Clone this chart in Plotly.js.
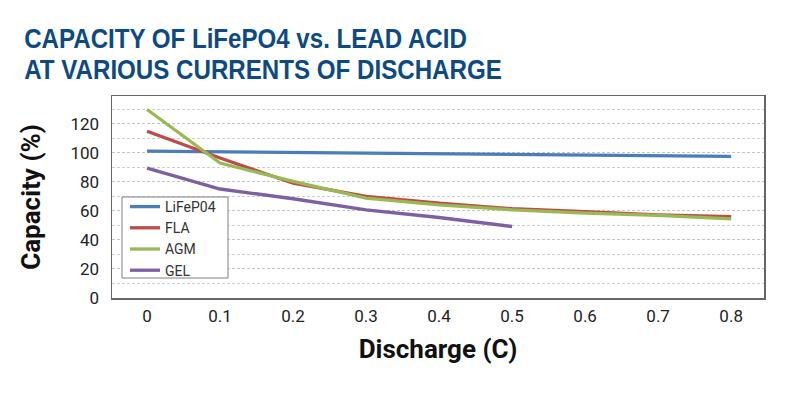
<!DOCTYPE html>
<html>
<head>
<meta charset="utf-8">
<script src="https://cdn.plot.ly/plotly-3.0.1.min.js"></script>
<style>html,body{margin:0;padding:0;background:#fff;}#chart{width:807px;height:399px;}</style>
</head>
<body>
<div id="chart"></div>
<script>
const discharge = [0, 0.1, 0.2, 0.3, 0.4, 0.5, 0.6, 0.7, 0.8];
const lifepo4 = [101, 100.5, 100, 99.6, 99.1, 98.6, 98.2, 97.8, 97.4];
const fla = [114.7, 96.3, 79, 69.9, 65.3, 61.4, 59.5, 57.2, 56];
const agm = [129.7, 92.9, 80.2, 68.7, 64.1, 60.7, 58.4, 56.8, 54.5];
const gelX = [0, 0.1, 0.2, 0.3, 0.4, 0.5];
const gel = [89.4, 75, 68.3, 60.7, 55.4, 49.2];
const seriesNames = ['LiFeP04', 'FLA', 'AGM', 'GEL'];
const yTicks = [0, 20, 40, 60, 80, 100, 120];
const xTicks = [0, 0.1, 0.2, 0.3, 0.4, 0.5, 0.6, 0.7, 0.8];
const xTickText = ['0', '0.1', '0.2', '0.3', '0.4', '0.5', '0.6', '0.7', '0.8'];
const titleLines = ['CAPACITY OF LiFePO4 vs. LEAD ACID', 'AT VARIOUS CURRENTS OF DISCHARGE'];

const W = 807, H = 399;
const M = {l: 112, r: 43, t: 96, b: 101};
const PW = W - M.l - M.r, PH = H - M.t - M.b;
const px = x => (x - M.l) / PW;          // pixel -> paper x
const py = y => 1 - (y - M.t) / PH;      // pixel -> paper y

const colors = ['#4a7ebb', '#be4b48', '#98b954', '#7d60a0'];
const traces = [
  {x: discharge, y: lifepo4, name: seriesNames[0]},
  {x: discharge, y: fla, name: seriesNames[1]},
  {x: discharge, y: agm, name: seriesNames[2]},
  {x: gelX, y: gel, name: seriesNames[3]}
].map((t, i) => Object.assign(t, {type: 'scatter', mode: 'lines', line: {color: colors[i], width: 3.3}}));

const titleFont = {family: 'Liberation Sans, Arial, sans-serif', size: 28, color: '#0e4a82', weight: 'bold'};
const titleY = [38.5, 70];

const layout = {
  width: W, height: H,
  margin: M,
  paper_bgcolor: '#fff', plot_bgcolor: '#fff',
  showlegend: true,
  legend: {
    x: px(125), y: py(191), xanchor: 'left', yanchor: 'top',
    bgcolor: 'rgba(0,0,0,0)', borderwidth: 0,
    font: {family: 'Roboto, sans-serif', size: 14, color: '#333'},
    tracegroupgap: 0
  },
  shapes: [{
    type: 'rect', xref: 'paper', yref: 'paper', layer: 'above',
    x0: px(122), x1: px(228), y0: py(278), y1: py(197),
    line: {color: '#808080', width: 1}, fillcolor: '#fff'
  }],
  annotations: titleLines.map((t, i) => ({
    text: t, xref: 'paper', yref: 'paper', x: px(22), y: py(titleY[i]),
    xanchor: 'left', yanchor: 'middle', showarrow: false, font: titleFont
  })),
  xaxis: {
    range: [-0.048, 0.845],
    tickvals: xTicks, ticktext: xTickText,
    showgrid: false, zeroline: false,
    showline: true, mirror: true, linecolor: '#666', linewidth: 1.5,
    ticks: '', ticklabelstandoff: 2,
    tickfont: {family: 'Roboto, sans-serif', size: 17, color: '#222'},
    title: {text: 'Discharge (C)', font: {family: 'Roboto, sans-serif', size: 26, color: '#111', weight: 'bold'}, standoff: 15}
  },
  yaxis: {
    range: [0, 139],
    tickvals: yTicks,
    showgrid: true, gridcolor: '#c4c4c4', griddash: '3px,2px', gridwidth: 1,
    minor: {dtick: 10, tick0: 0, showgrid: true, gridcolor: '#cfcfcf', griddash: '3px,2px', gridwidth: 1},
    zeroline: false,
    showline: true, mirror: true, linecolor: '#666', linewidth: 1.5,
    ticks: '', ticklabelstandoff: 8,
    tickfont: {family: 'Roboto, sans-serif', size: 17, color: '#222'},
    title: {text: 'Capacity (%)', font: {family: 'Roboto, sans-serif', size: 26, color: '#111', weight: 'bold'}, standoff: 22}
  }
};

const titleTargetWidth = [443, 478];
Plotly.newPlot('chart', traces, layout, {displayModeBar: false, staticPlot: true}).then(gd => {
  // condense the title lines horizontally to mimic the reference's condensed display face
  const texts = gd.querySelectorAll('.annotation-text');
  texts.forEach((el, i) => {
    if (i >= titleTargetWidth.length) return;
    const bb = el.getBBox();
    const sx = titleTargetWidth[i] / bb.width;
    el.setAttribute('transform', `translate(${bb.x} 0) scale(${sx} 1) translate(${-bb.x} 0)`);
  });
});
</script>
</body>
</html>
